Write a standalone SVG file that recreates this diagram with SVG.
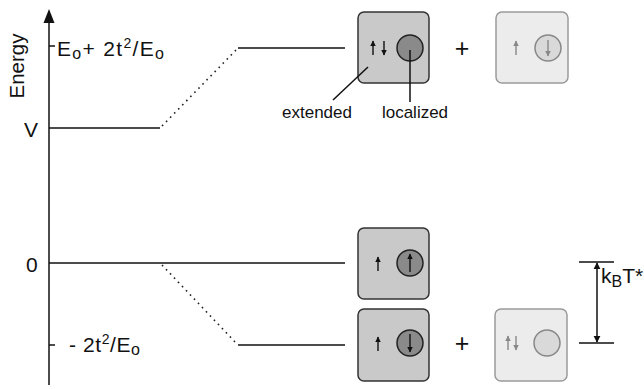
<svg xmlns="http://www.w3.org/2000/svg" width="644" height="389" viewBox="0 0 644 389">
<defs>
<style>
.t{font-family:"Liberation Sans",Arial,sans-serif;fill:#111}
.ln{stroke:#111;stroke-width:1.5;fill:none}
.dot{stroke:#222;stroke-width:1.6;fill:none;stroke-dasharray:1.6 4.2}
.bd{fill:#c9c9c9;stroke:#333;stroke-width:1.5}
.bl{fill:#ececec;stroke:#9a9a9a;stroke-width:1.5}
.cd{fill:#8a8a8a;stroke:#222;stroke-width:1.5}
.cl{fill:#d9d9d9;stroke:#888;stroke-width:1.5}
.ad{stroke:#111;stroke-width:1.4}
.al{stroke:#888;stroke-width:1.4}
</style>
<marker id="hd" viewBox="0 0 10 10" refX="9" refY="5" markerWidth="4" markerHeight="4" orient="auto"><path d="M0,0L10,5L0,10z" fill="#111"/></marker>
<marker id="hl" viewBox="0 0 10 10" refX="9" refY="5" markerWidth="4" markerHeight="4" orient="auto"><path d="M0,0L10,5L0,10z" fill="#888"/></marker>
<marker id="hk" viewBox="0 0 10 10" refX="9" refY="5" markerWidth="7" markerHeight="8" markerUnits="userSpaceOnUse" orient="auto"><path d="M0,0L10,5L0,10z" fill="#111"/></marker>
</defs>

<g id="axis">
<line class="ln" x1="49" y1="385" x2="49" y2="20"/>
<path d="M43.5,23L49,9L54.5,23z" fill="#111"/>
<line class="ln" x1="49" y1="46" x2="55" y2="46"/>
<line class="ln" x1="49" y1="345" x2="55" y2="345"/>
<text class="t" font-size="20.5" transform="translate(24,66) rotate(-90)" text-anchor="middle">Energy</text>
<text class="t" font-size="21" x="57" y="56" textLength="107" lengthAdjust="spacing">E<tspan font-size="16" dy="3">o</tspan><tspan dy="-3">+ 2t</tspan><tspan font-size="14" dy="-8">2</tspan><tspan dy="8">/E</tspan><tspan font-size="16" dy="3">o</tspan></text>
<text class="t" font-size="21" x="24" y="137">V</text>
<text class="t" font-size="21" x="26" y="272">0</text>
<text class="t" font-size="21" x="69" y="352" textLength="71" lengthAdjust="spacing">- 2t<tspan font-size="14" dy="-8">2</tspan><tspan dy="8">/E</tspan><tspan font-size="16" dy="3">o</tspan></text>
</g>

<g id="connectors">
<polyline class="ln" points="49,128 160,128"/>
<line class="dot" x1="162" y1="126" x2="237" y2="49"/>
<line class="ln" x1="238" y1="48" x2="345" y2="48"/>
<line class="ln" x1="49" y1="263" x2="345" y2="263"/>
<line class="dot" x1="162" y1="265" x2="237" y2="344"/>
<line class="ln" x1="238" y1="345" x2="345" y2="345"/>
</g>

<g id="state-top">
<rect class="bd" x="358" y="12" width="71" height="71" rx="6"/>
<line class="ad" x1="373" y1="55" x2="373" y2="41" marker-end="url(#hd)"/>
<line class="ad" x1="384" y1="41" x2="384" y2="55" marker-end="url(#hd)"/>
<circle class="cd" cx="410" cy="48" r="13"/>
<line class="ln" x1="410" y1="50" x2="410" y2="102" stroke-width="1.2"/>
<line class="ln" x1="368" y1="67" x2="333" y2="100" stroke-width="1.2"/>
<text class="t" font-size="17" x="317" y="118" text-anchor="middle">extended</text>
<text class="t" font-size="17" x="415" y="118" text-anchor="middle">localized</text>
</g>
<g id="plus-top"><text class="t" font-size="25" x="462" y="57" text-anchor="middle">+</text></g>
<g id="state-top-light">
<rect class="bl" x="496" y="12" width="72" height="71" rx="6"/>
<line class="al" x1="516" y1="55" x2="516" y2="41" marker-end="url(#hl)"/>
<circle class="cl" cx="548" cy="48" r="13"/>
<line class="al" x1="548" y1="40" x2="548" y2="56" marker-end="url(#hl)"/>
</g>

<g id="state-zero">
<rect class="bd" x="358" y="228" width="71" height="71" rx="6"/>
<line class="ad" x1="378" y1="271" x2="378" y2="257" marker-end="url(#hd)"/>
<circle class="cd" cx="410" cy="263" r="13"/>
<line class="ad" x1="410" y1="272" x2="410" y2="254" marker-end="url(#hd)"/>
</g>

<g id="state-bottom">
<rect class="bd" x="358" y="309" width="71" height="72" rx="6"/>
<line class="ad" x1="378" y1="351" x2="378" y2="337" marker-end="url(#hd)"/>
<circle class="cd" cx="410" cy="343" r="13"/>
<line class="ad" x1="410" y1="334" x2="410" y2="352" marker-end="url(#hd)"/>
</g>
<g id="plus-bottom"><text class="t" font-size="25" x="462" y="352" text-anchor="middle">+</text></g>
<g id="state-bottom-light">
<rect class="bl" x="495" y="309" width="72" height="72" rx="6"/>
<line class="al" x1="508" y1="350" x2="508" y2="336" marker-end="url(#hl)"/>
<line class="al" x1="516" y1="336" x2="516" y2="350" marker-end="url(#hl)"/>
<circle class="cl" cx="547" cy="343" r="13"/>
</g>

<g id="kbt">
<line class="ln" x1="579" y1="262" x2="614" y2="262"/>
<line class="ln" x1="579" y1="343" x2="614" y2="343"/>
<line class="ln" x1="597" y1="300" x2="597" y2="263" marker-end="url(#hk)"/>
<line class="ln" x1="597" y1="300" x2="597" y2="342" marker-end="url(#hk)"/>
<text class="t" font-size="21" x="601" y="283">k<tspan font-size="16" dy="4">B</tspan><tspan dy="-4">T*</tspan></text>
</g>
</svg>
